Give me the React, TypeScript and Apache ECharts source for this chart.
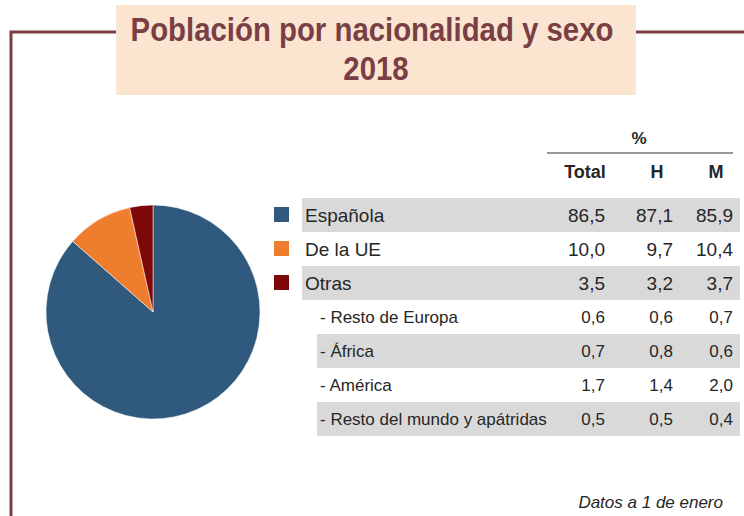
import React, { useEffect, useRef } from "react";
import * as echarts from "echarts";

const titleLines = ["Población por nacionalidad y sexo", "2018"];
const categories = ["Española", "De la UE", "Otras"];
const totalValues = [86.5, 10.0, 3.5];
const hValues = [87.1, 9.7, 3.2];
const mValues = [85.9, 10.4, 3.7];
const subCategories = ["- Resto de Europa", "- África", "- América", "- Resto del mundo y apátridas"];
const subTotal = [0.6, 0.7, 1.7, 0.5];
const subH = [0.6, 0.8, 1.4, 0.5];
const subM = [0.7, 0.6, 2.0, 0.4];
const columnLabels = ["Total", "H", "M"];
const unitLabel = "%";
const footnote = "Datos a 1 de enero";
const sliceColors = ["#2F5A7D", "#EE7D2E", "#7E0808"];

const fmt = (v: number) => v.toFixed(1).replace(".", ",");

export default function App() {
  const ref = useRef<HTMLDivElement>(null);
  useEffect(() => {
    if (!ref.current) return;
    const chart = echarts.init(ref.current, undefined, { renderer: "svg" });
    const font = "'Liberation Sans', Arial, sans-serif";
    const textColor = "#262626";
    const frame = "#7A3F45";
    const colRight = [605, 673, 733];
    const headerCenter = [585, 657, 716];
    const rowTop = 198;
    const rowH = 34;
    const g: any[] = [];

    // frame
    g.push({ type: "polyline", shape: { points: [[11, 516], [11, 32], [116, 32]] }, style: { stroke: frame, lineWidth: 3, fill: null } });
    g.push({ type: "line", shape: { x1: 636, y1: 32, x2: 744, y2: 32 }, style: { stroke: frame, lineWidth: 3 } });
    // title box
    g.push({ type: "rect", shape: { x: 116, y: 5, width: 520, height: 90 }, style: { fill: "#FCE5D0" } });
    g.push({ type: "text", x: 372, y: 30, scaleX: 0.89, style: { text: titleLines[0], fill: "#7A3F45", fontFamily: font, fontWeight: "bold", fontSize: 33, textAlign: "center", textVerticalAlign: "middle" } });
    g.push({ type: "text", x: 376, y: 69, scaleX: 0.89, style: { text: titleLines[1], fill: "#7A3F45", fontFamily: font, fontWeight: "bold", fontSize: 33, textAlign: "center", textVerticalAlign: "middle" } });

    // header
    g.push({ type: "text", x: 639, y: 138, style: { text: unitLabel, fill: textColor, fontFamily: font, fontWeight: "bold", fontSize: 17, textAlign: "center", textVerticalAlign: "middle" } });
    g.push({ type: "line", shape: { x1: 547, y1: 153, x2: 733, y2: 153 }, style: { stroke: "#9A9A9A", lineWidth: 2 } });
    columnLabels.forEach((c, i) => {
      g.push({ type: "text", x: headerCenter[i], y: 172, style: { text: c, fill: textColor, fontFamily: font, fontWeight: "bold", fontSize: 18, textAlign: "center", textVerticalAlign: "middle" } });
    });

    // main rows
    categories.forEach((c, i) => {
      const y = rowTop + i * rowH;
      if (i % 2 === 0) g.push({ type: "rect", shape: { x: 302, y, width: 438, height: rowH }, style: { fill: "#D9D9D9" } });
      g.push({ type: "rect", shape: { x: 274, y: y + rowH / 2 - 8, width: 15, height: 15 }, style: { fill: sliceColors[i] } });
      g.push({ type: "text", x: 305, y: y + rowH / 2, style: { text: c, fill: textColor, fontFamily: font, fontSize: 19, textAlign: "left", textVerticalAlign: "middle" } });
      [totalValues[i], hValues[i], mValues[i]].forEach((v, j) => {
        g.push({ type: "text", x: colRight[j], y: y + rowH / 2, style: { text: fmt(v), fill: textColor, fontFamily: font, fontSize: 19, textAlign: "right", textVerticalAlign: "middle" } });
      });
    });
    // sub rows
    subCategories.forEach((c, i) => {
      const y = rowTop + (categories.length + i) * rowH;
      if (i % 2 === 1) g.push({ type: "rect", shape: { x: 317, y, width: 423, height: rowH }, style: { fill: "#D9D9D9" } });
      g.push({ type: "text", x: 320, y: y + rowH / 2, style: { text: c, fill: textColor, fontFamily: font, fontSize: 17, textAlign: "left", textVerticalAlign: "middle" } });
      [subTotal[i], subH[i], subM[i]].forEach((v, j) => {
        g.push({ type: "text", x: colRight[j], y: y + rowH / 2, style: { text: fmt(v), fill: textColor, fontFamily: font, fontSize: 17, textAlign: "right", textVerticalAlign: "middle" } });
      });
    });
    g.push({ type: "text", x: 723, y: 502, style: { text: footnote, fill: textColor, fontFamily: font, fontStyle: "italic", fontSize: 17, textAlign: "right", textVerticalAlign: "middle" } });

    chart.setOption({
      animation: false,
      backgroundColor: "#ffffff",
      graphic: { elements: g },
      series: [
        {
          type: "pie",
          center: [153, 312],
          radius: 107,
          startAngle: 90,
          clockwise: true,
          label: { show: false },
          labelLine: { show: false },
          itemStyle: { borderColor: "#ffffff", borderWidth: 0.5 },
          data: categories.map((c, i) => ({ name: c, value: totalValues[i], itemStyle: { color: sliceColors[i] } })),
        },
      ],
    });
    return () => chart.dispose();
  }, []);
  return <div ref={ref} style={{ position: "absolute", left: 0, top: 0, width: 744, height: 516 }} />;
}
